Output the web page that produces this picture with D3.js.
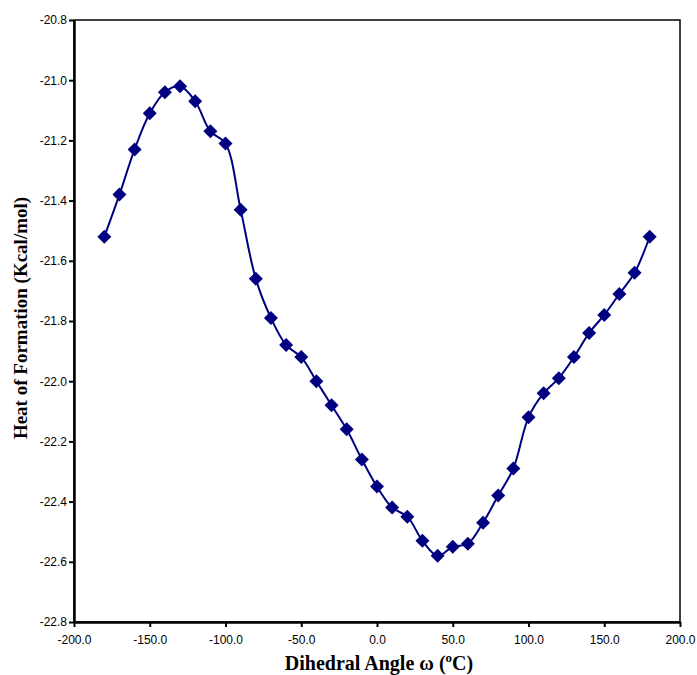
<!DOCTYPE html>
<html lang="en">
<head>
<meta charset="UTF-8">
<title>Heat of Formation vs Dihedral Angle</title>
<script src="https://d3js.org/d3.v7.min.js"></script>
<style>
  body { margin: 0; background: #fff; }
  .tick text { font-family: Arial, "Liberation Sans", sans-serif; font-size: 12px; fill: #000; }
  .title { font-family: "Times New Roman", "Liberation Serif", serif; font-weight: bold; }
</style>
</head>
<body>
<div id="chart"></div>
<script>
// dihedral angle (deg) and heat of formation (kcal/mol)
var angles = [-180, -170, -160, -150, -140, -130, -120, -110, -100, -90, -80, -70, -60, -50, -40, -30, -20, -10,
  0, 10, 20, 30, 40, 50, 60, 70, 80, 90, 100, 110, 120, 130, 140, 150, 160, 170, 180];
var heat = [-21.52, -21.38, -21.23, -21.11, -21.04, -21.02, -21.07, -21.17, -21.21, -21.43, -21.66, -21.79, -21.88, -21.92, -22.00, -22.08, -22.16, -22.26,
  -22.35, -22.42, -22.45, -22.53, -22.58, -22.55, -22.54, -22.47, -22.38, -22.29, -22.12, -22.04, -21.99, -21.92, -21.84, -21.78, -21.71, -21.64, -21.52];
var xTicks = [-200, -150, -100, -50, 0, 50, 100, 150, 200];
var yTicks = [-20.8, -21.0, -21.2, -21.4, -21.6, -21.8, -22.0, -22.2, -22.4, -22.6, -22.8];

var W = 697, H = 675;
var margin = {top: 20, right: 17, bottom: 53, left: 74};
var width = W - margin.left - margin.right,
    height = H - margin.top - margin.bottom;

var svg = d3.select("#chart").append("svg")
    .attr("width", W).attr("height", H);
var g = svg.append("g")
    .attr("transform", `translate(${margin.left},${margin.top})`);

var x = d3.scaleLinear().domain([-200, 200]).range([0, width]);
var y = d3.scaleLinear().domain([-22.8, -20.8]).range([height, 0]);

var fmt = function(d) { return d.toFixed(1); };

// plot border (top/right)
g.append("rect")
  .attr("x", 0).attr("y", 0).attr("width", width).attr("height", height)
  .attr("fill", "none").attr("stroke", "#000").attr("stroke-width", 1.5);

var xAxis = g.append("g")
  .attr("transform", `translate(0,${height})`)
  .call(d3.axisBottom(x).tickValues(xTicks).tickFormat(fmt).tickSize(5).tickSizeOuter(0));
var yAxis = g.append("g")
  .call(d3.axisLeft(y).tickValues(yTicks).tickFormat(fmt).tickSize(5).tickSizeOuter(0));
[xAxis, yAxis].forEach(function(a) {
  a.select(".domain").attr("stroke-width", 2.5);
  a.selectAll(".tick line").attr("stroke-width", 2);
});
xAxis.selectAll(".tick text").attr("dy", "1.2em");
yAxis.selectAll(".tick text").attr("x", -7);

var pts = angles.map(function(a, i) { return [a, heat[i]]; });

g.append("path")
  .datum(pts)
  .attr("fill", "none")
  .attr("stroke", "#000080")
  .attr("stroke-width", 2)
  .attr("d", d3.line()
    .x(function(d) { return x(d[0]); })
    .y(function(d) { return y(d[1]); })
    .curve(d3.curveCatmullRom.alpha(0.5)));

g.selectAll(".pt")
  .data(pts)
  .join("path")
  .attr("class", "pt")
  .attr("transform", function(d) { return `translate(${x(d[0])},${y(d[1])})`; })
  .attr("d", "M0,-7L7,0L0,7L-7,0Z")
  .attr("fill", "#000080");

// axis titles
var xt = svg.append("text")
  .attr("class", "title")
  .attr("font-size", "20px")
  .attr("x", margin.left + width / 2 + 2)
  .attr("y", 670)
  .attr("text-anchor", "middle");
xt.append("tspan").text("Dihedral Angle \u03C9 (");
xt.append("tspan").attr("font-size", "13px").attr("dy", "-8").text("o");
xt.append("tspan").attr("dy", "8").text("C)");

svg.append("text")
  .attr("class", "title")
  .attr("font-size", "19px")
  .attr("transform", `translate(27,${margin.top + height / 2 - 3}) rotate(-90)`)
  .attr("text-anchor", "middle")
  .text("Heat of Formation (Kcal/mol)");
</script>
</body>
</html>
